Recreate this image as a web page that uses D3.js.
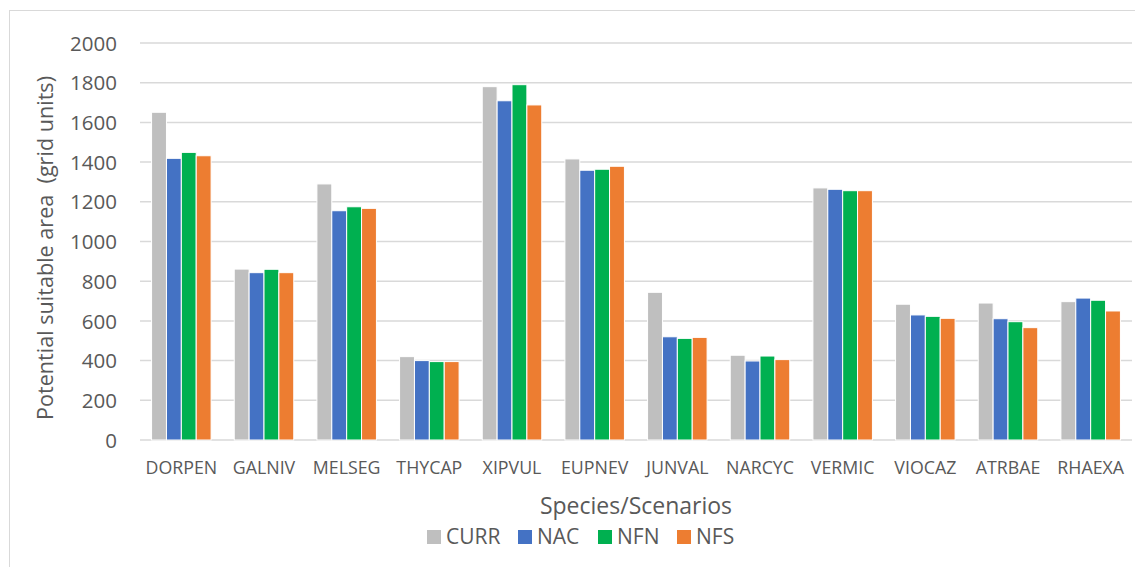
<!DOCTYPE html>
<html>
<head>
<meta charset="utf-8">
<script src="https://cdn.jsdelivr.net/npm/d3@7"></script>
<style>
  body { margin: 0; background: #fff; }
  text { font-family: "Open Sans", sans-serif; fill: #595959; }
</style>
</head>
<body>
<script>
// categories and series
var species = ["DORPEN", "GALNIV", "MELSEG", "THYCAP", "XIPVUL", "EUPNEV", "JUNVAL", "NARCYC", "VERMIC", "VIOCAZ", "ATRBAE", "RHAEXA"];
var scenarios = ["CURR", "NAC", "NFN", "NFS"];
var colors = ["#BFBFBF", "#4472C4", "#00B050", "#ED7D31"];

var curr = [1651, 861, 1290, 420, 1780, 1416, 744, 427, 1270, 684, 690, 697];
var nac  = [1419, 843, 1155, 400, 1709, 1359, 520, 398, 1263, 630, 611, 715];
var nfn  = [1449, 860, 1175, 395, 1790, 1364, 512, 423, 1256, 623, 596, 704];
var nfs  = [1432, 843, 1167, 395, 1688, 1379, 517, 405, 1256, 613, 566, 650];
var yTicks = [0, 200, 400, 600, 800, 1000, 1200, 1400, 1600, 1800, 2000];

var W = 1135, H = 567;
var plot = {left: 140, right: 1132, top: 43, bottom: 440};

// build rows for drawing
var seriesVals = [curr, nac, nfn, nfs];
var rows = species.map(function(s, i) {
    return {name: s, vals: scenarios.map(function(k, j) { return {key: k, v: seriesVals[j][i]}; })};
});

var svg = d3.select("body").append("svg")
    .attr("width", W)
    .attr("height", H);

// chart border
svg.append("rect")
    .attr("x", 9.5).attr("y", 10.5)
    .attr("width", W).attr("height", H)
    .attr("fill", "none")
    .attr("stroke", "#D9D9D9")
    .attr("stroke-width", 1);

var x0 = d3.scaleBand().domain(species).range([plot.left, plot.right]).padding(0);
var groupW = x0.bandwidth() * 0.72;
var x1 = d3.scaleBand().domain(scenarios).range([0, groupW]).padding(0);
var y = d3.scaleLinear().domain([0, 2000]).range([plot.bottom, plot.top]);
var color = d3.scaleOrdinal().domain(scenarios).range(colors);

// gridlines
svg.append("g")
    .selectAll("line")
    .data(yTicks)
    .enter().append("line")
    .attr("x1", plot.left).attr("x2", plot.right)
    .attr("y1", function(d) { return y(d); })
    .attr("y2", function(d) { return y(d); })
    .attr("stroke", "#D9D9D9")
    .attr("stroke-width", 1.5);

// y axis labels
var yAxis = d3.axisLeft(y).tickValues(yTicks).tickFormat(d3.format("d")).tickSize(0).tickPadding(0);
var gy = svg.append("g")
    .attr("transform", "translate(117,0)")
    .call(yAxis);
gy.select(".domain").remove();
gy.selectAll("text")
    .style("font-size", "20.5px")
    .attr("fill", "#595959")
    .attr("dy", "0.35em");

// bars
var groups = svg.append("g").selectAll("g")
    .data(rows)
    .enter().append("g")
    .attr("transform", function(d) {
        return "translate(" + (x0(d.name) + (x0.bandwidth() - groupW) / 2) + ",0)";
    });

groups.selectAll("rect")
    .data(function(d) { return d.vals; })
    .enter().append("rect")
    .attr("x", function(d) { return x1(d.key); })
    .attr("y", function(d) { return y(d.v); })
    .attr("width", x1.bandwidth())
    .attr("height", function(d) { return y(0) - y(d.v); })
    .attr("fill", function(d) { return color(d.key); })
    .attr("stroke", "#fff")
    .attr("stroke-width", 1);

// x axis labels
var xAxis = d3.axisBottom(x0).tickSize(0).tickPadding(0);
var gx = svg.append("g")
    .attr("transform", "translate(0,474)")
    .call(xAxis);
gx.select(".domain").remove();
gx.selectAll("text")
    .style("font-size", "17.8px")
    .attr("fill", "#595959")
    .attr("dy", 0)
    .attr("y", 0);

// axis titles
svg.append("text")
    .attr("transform", "translate(53,248) rotate(-90)")
    .attr("text-anchor", "middle")
    .style("font-size", "21.6px")
    .style("white-space", "pre")
    .text("Potential suitable area  (grid units)");

svg.append("text")
    .attr("x", 636)
    .attr("y", 514)
    .attr("text-anchor", "middle")
    .style("font-size", "23px")
    .text("Species/Scenarios");

// legend
var legendX = [427, 518, 598, 677];
var legend = svg.append("g").selectAll("g")
    .data(scenarios)
    .enter().append("g")
    .attr("transform", function(d, i) { return "translate(" + legendX[i] + ",530)"; });
legend.append("rect")
    .attr("width", 14).attr("height", 14)
    .attr("fill", function(d) { return color(d); });
legend.append("text")
    .attr("x", 19)
    .attr("y", 14)
    .style("font-size", "21px")
    .text(function(d) { return d; });
</script>
</body>
</html>
